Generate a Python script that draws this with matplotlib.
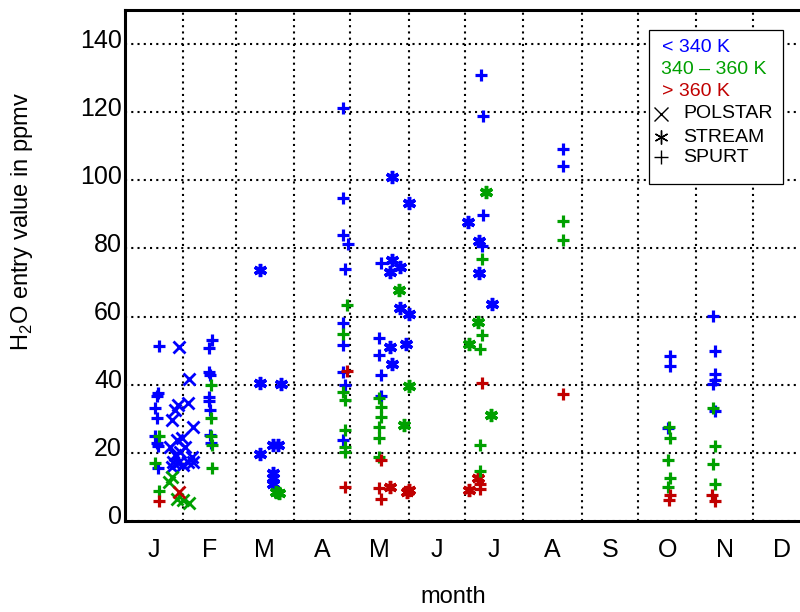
import matplotlib
matplotlib.use("Agg")
import matplotlib.pyplot as plt
from matplotlib.patches import Rectangle
from matplotlib.transforms import ScaledTranslation

plt.rcParams['font.family'] = ['Liberation Sans', 'DejaVu Sans']
plt.rcParams['mathtext.fontset'] = 'custom'
plt.rcParams['mathtext.rm'] = 'Liberation Sans'

# ---- data: day of year and H2O entry value (ppmv) -------------------------
# SPURT
spurt_lo_doy = [18.4, 17.9, 17.3, 16.1, 17.3, 16.1, 17.0, 17.9, 17.9,
                46.3, 45.0, 45.0, 45.3, 45.0, 45.0, 45.3, 45.3, 45.9,
                116.2, 116.2, 116.2, 118.9, 117.1, 116.2, 116.2, 116.2, 117.1, 116.2,
                136.1, 135.2, 135.2, 136.3, 136.3,
                189.3, 190.3, 190.3, 189.8,
                232.9, 232.9,
                289.9, 289.9, 289.0,
                312.9, 314.0, 314.0, 314.0, 312.9, 314.0]
spurt_lo_h2o = [51.3, 37.5, 36.7, 33.1, 30.2, 24.9, 22.9, 22.0, 15.5,
                53.1, 50.7, 43.7, 42.8, 36.4, 35.2, 32.6, 25.2, 22.9,
                121.3, 94.9, 83.9, 81.2, 74.1, 58.0, 51.8, 43.8, 39.9, 23.8,
                75.6, 53.6, 48.7, 42.8, 36.8,
                131.0, 118.8, 89.7, 80.6,
                109.1, 104.2,
                48.4, 45.5, 27.2,
                60.1, 49.9, 43.1, 41.3, 40.1, 32.3]

spurt_mid_doy = [18.4, 16.1, 18.4,
                 45.9, 45.9, 45.9, 46.3, 46.3,
                 118.0, 116.2, 116.2, 117.1, 117.1, 117.1, 117.1,
                 135.2, 136.3, 136.3, 135.2, 135.2, 135.2,
                 190.1, 190.1, 188.9, 188.9, 188.9,
                 232.9, 232.9,
                 289.5, 289.9, 289.0, 289.9, 289.0,
                 312.9, 314.0, 312.9, 314.0]
spurt_mid_h2o = [25.0, 17.0, 8.8,
                 39.9, 30.1, 24.9, 22.3, 15.5,
                 63.3, 55.0, 37.9, 35.5, 26.7, 21.8, 20.3,
                 36.0, 33.5, 30.6, 27.7, 24.3, 18.9,
                 77.0, 54.5, 50.6, 22.3, 14.8,
                 88.0, 82.4,
                 27.7, 24.5, 17.9, 12.5, 9.9,
                 33.3, 22.0, 16.6, 10.8]

spurt_hi_doy = [18.4, 118.0, 117.1, 136.3, 135.2, 136.3,
                190.1, 188.9, 188.9, 232.9, 289.9, 289.5, 312.6, 314.0]
spurt_hi_h2o = [6.0, 44.1, 10.1, 17.9, 9.6, 6.4,
                40.4, 11.0, 9.3, 37.2, 7.6, 6.2, 7.6, 5.9]

# POLSTAR
polstar_lo_doy = [29.0, 34.2, 28.5, 33.8, 26.7, 25.0, 36.2, 27.6, 32.1, 24.1,
                  29.4, 35.6, 25.8, 28.5, 33.8, 25.0, 31.2, 36.5, 30.5, 27.0]
polstar_lo_h2o = [51.1, 41.6, 34.0, 34.7, 32.5, 29.6, 27.5, 23.8, 21.8, 21.6,
                  20.3, 18.9, 17.4, 16.9, 17.4, 15.9, 16.4, 17.4, 24.5, 19.5]
polstar_mid_doy = [25.0, 23.7, 27.6, 31.2, 34.3]
polstar_mid_h2o = [13.0, 11.5, 6.6, 6.2, 5.4]
polstar_hi_doy = [29.0]
polstar_hi_h2o = [8.6]

# STREAM
stream_lo_doy = [71.9, 71.9, 83.1, 81.7, 79.0, 71.9, 79.0, 79.0, 79.0,
                 142.3, 151.1, 142.3, 141.0, 146.4, 146.4, 151.1, 141.0, 149.4, 142.3,
                 182.7, 188.4, 188.5, 195.1]
stream_lo_h2o = [73.6, 40.6, 40.1, 22.3, 22.3, 19.6, 14.0, 12.5, 11.0,
                 101.0, 93.3, 76.7, 73.1, 74.6, 62.4, 60.9, 51.1, 52.1, 46.0,
                 87.8, 82.2, 72.8, 63.8]
stream_mid_doy = [82.2, 80.5, 146.0, 151.1, 148.5, 192.1, 188.0, 183.0, 194.7]
stream_mid_h2o = [8.1, 8.5, 67.7, 39.6, 28.2, 96.6, 58.4, 52.1, 31.1]
stream_hi_doy = [141.0, 149.9, 151.1, 188.0, 183.0]
stream_hi_h2o = [10.1, 8.6, 9.1, 12.5, 9.1]

month_letters = ['J', 'F', 'M', 'A', 'M', 'J', 'J', 'A', 'S', 'O', 'N', 'D']
month_days = [31, 28, 31, 30, 31, 30, 31, 31, 30, 31, 30, 31]
y_ticks = [0, 20, 40, 60, 80, 100, 120, 140]

BLUE = '#0000ff'
GREEN = '#00a000'
RED = '#c00000'

# ---- figure ----------------------------------------------------------------
W, H = 800, 612
fig = plt.figure(figsize=(W / 100, H / 100), dpi=100)
ax = fig.add_axes([124.7 / W, 1 - 521 / H, 686.3 / W, 511 / H])
ax.set_xlim(0, 365)
ax.set_ylim(0, 150)

asterisk = (6, 2, 0)
styles = {
    'polstar': dict(marker='x', ms=8.5, mew=2.0),
    'stream': dict(marker=asterisk, ms=9.5, mew=2.5),
    'spurt': dict(marker='+', ms=8.0, mew=2.3),
}
series = [
    ('polstar', polstar_lo_doy, polstar_lo_h2o, BLUE),
    ('polstar', polstar_mid_doy, polstar_mid_h2o, GREEN),
    ('polstar', polstar_hi_doy, polstar_hi_h2o, RED),
    ('stream', stream_lo_doy, stream_lo_h2o, BLUE),
    ('stream', stream_mid_doy, stream_mid_h2o, GREEN),
    ('stream', stream_hi_doy, stream_hi_h2o, RED),
    ('spurt', spurt_lo_doy, spurt_lo_h2o, BLUE),
    ('spurt', spurt_mid_doy, spurt_mid_h2o, GREEN),
    ('spurt', spurt_hi_doy, spurt_hi_h2o, RED),
]
for kind, xs, ys, col in series:
    ax.plot(xs, ys, linestyle='none', color=col, mec=col, zorder=3, **styles[kind])

# month boundaries as dotted grid, labels at month centres
bounds = [0]
for d in month_days:
    bounds.append(bounds[-1] + d)
centres = [(a + b) / 2 for a, b in zip(bounds[:-1], bounds[1:])]
ax.set_xticks(centres)
ax.set_xticklabels(month_letters, fontsize=18)
ax.set_xticks(bounds[1:-1], minor=True)
ax.set_yticks(y_ticks)
ax.set_yticklabels([str(v) for v in y_ticks], fontsize=18)
ax.tick_params(axis='both', which='both', length=0)
ax.tick_params(axis='x', pad=12)
ax.tick_params(axis='y', pad=2)
ax.xaxis.grid(True, which='minor', color='black', linestyle=(0, (1, 2)), linewidth=1.5)
ax.yaxis.grid(True, which='major', color='black', linestyle=(0, (1, 2)), linewidth=1.5)
ax.xaxis.grid(False, which='major')
ax.set_axisbelow(True)
for lab in ax.get_yticklabels():
    lab.set_transform(lab.get_transform() + ScaledTranslation(0, 0.06, fig.dpi_scale_trans))
for sp in ax.spines.values():
    sp.set_linewidth(2.2)

fig.text(22 / W, 1 - 222 / H, r'H$_\mathregular{2}$O entry value in ppmv',
         rotation=90, ha='center', va='center', fontsize=17)
fig.text(453 / W, 1 - 597 / H, 'month', ha='center', va='center', fontsize=17)

# ---- legend box --------------------------------------------------------------
def fx(px):
    return px / W

def fy(py):
    return 1 - py / H

box = Rectangle((fx(649), fy(184)), fx(783) - fx(649), fy(30) - fy(184),
                transform=fig.transFigure, facecolor='white', edgecolor='black',
                linewidth=0.9, zorder=10)
fig.patches.append(box)
fig.text(fx(662), fy(48), '< 340 K', color=BLUE, fontsize=14, va='center', ha='left', zorder=11)
fig.text(fx(661), fy(70), '340 \u2013 360 K', color=GREEN, fontsize=14, va='center', ha='left', zorder=11)
fig.text(fx(662), fy(92), '> 360 K', color=RED, fontsize=14, va='center', ha='left', zorder=11)
leg_items = [('x', 114, 'POLSTAR'), (asterisk, 137, 'STREAM'), ('+', 157, 'SPURT')]
for mk, py, name in leg_items:
    fig.lines.append(plt.Line2D([fx(661)], [fy(py)], marker=mk, ms=10, mew=1.0,
                                color='black', linestyle='none',
                                transform=fig.transFigure, zorder=11))
    fig.text(fx(683), fy(py), name, color='black', fontsize=14, va='center', ha='left', zorder=11)

fig.savefig('out.png', dpi=100)
